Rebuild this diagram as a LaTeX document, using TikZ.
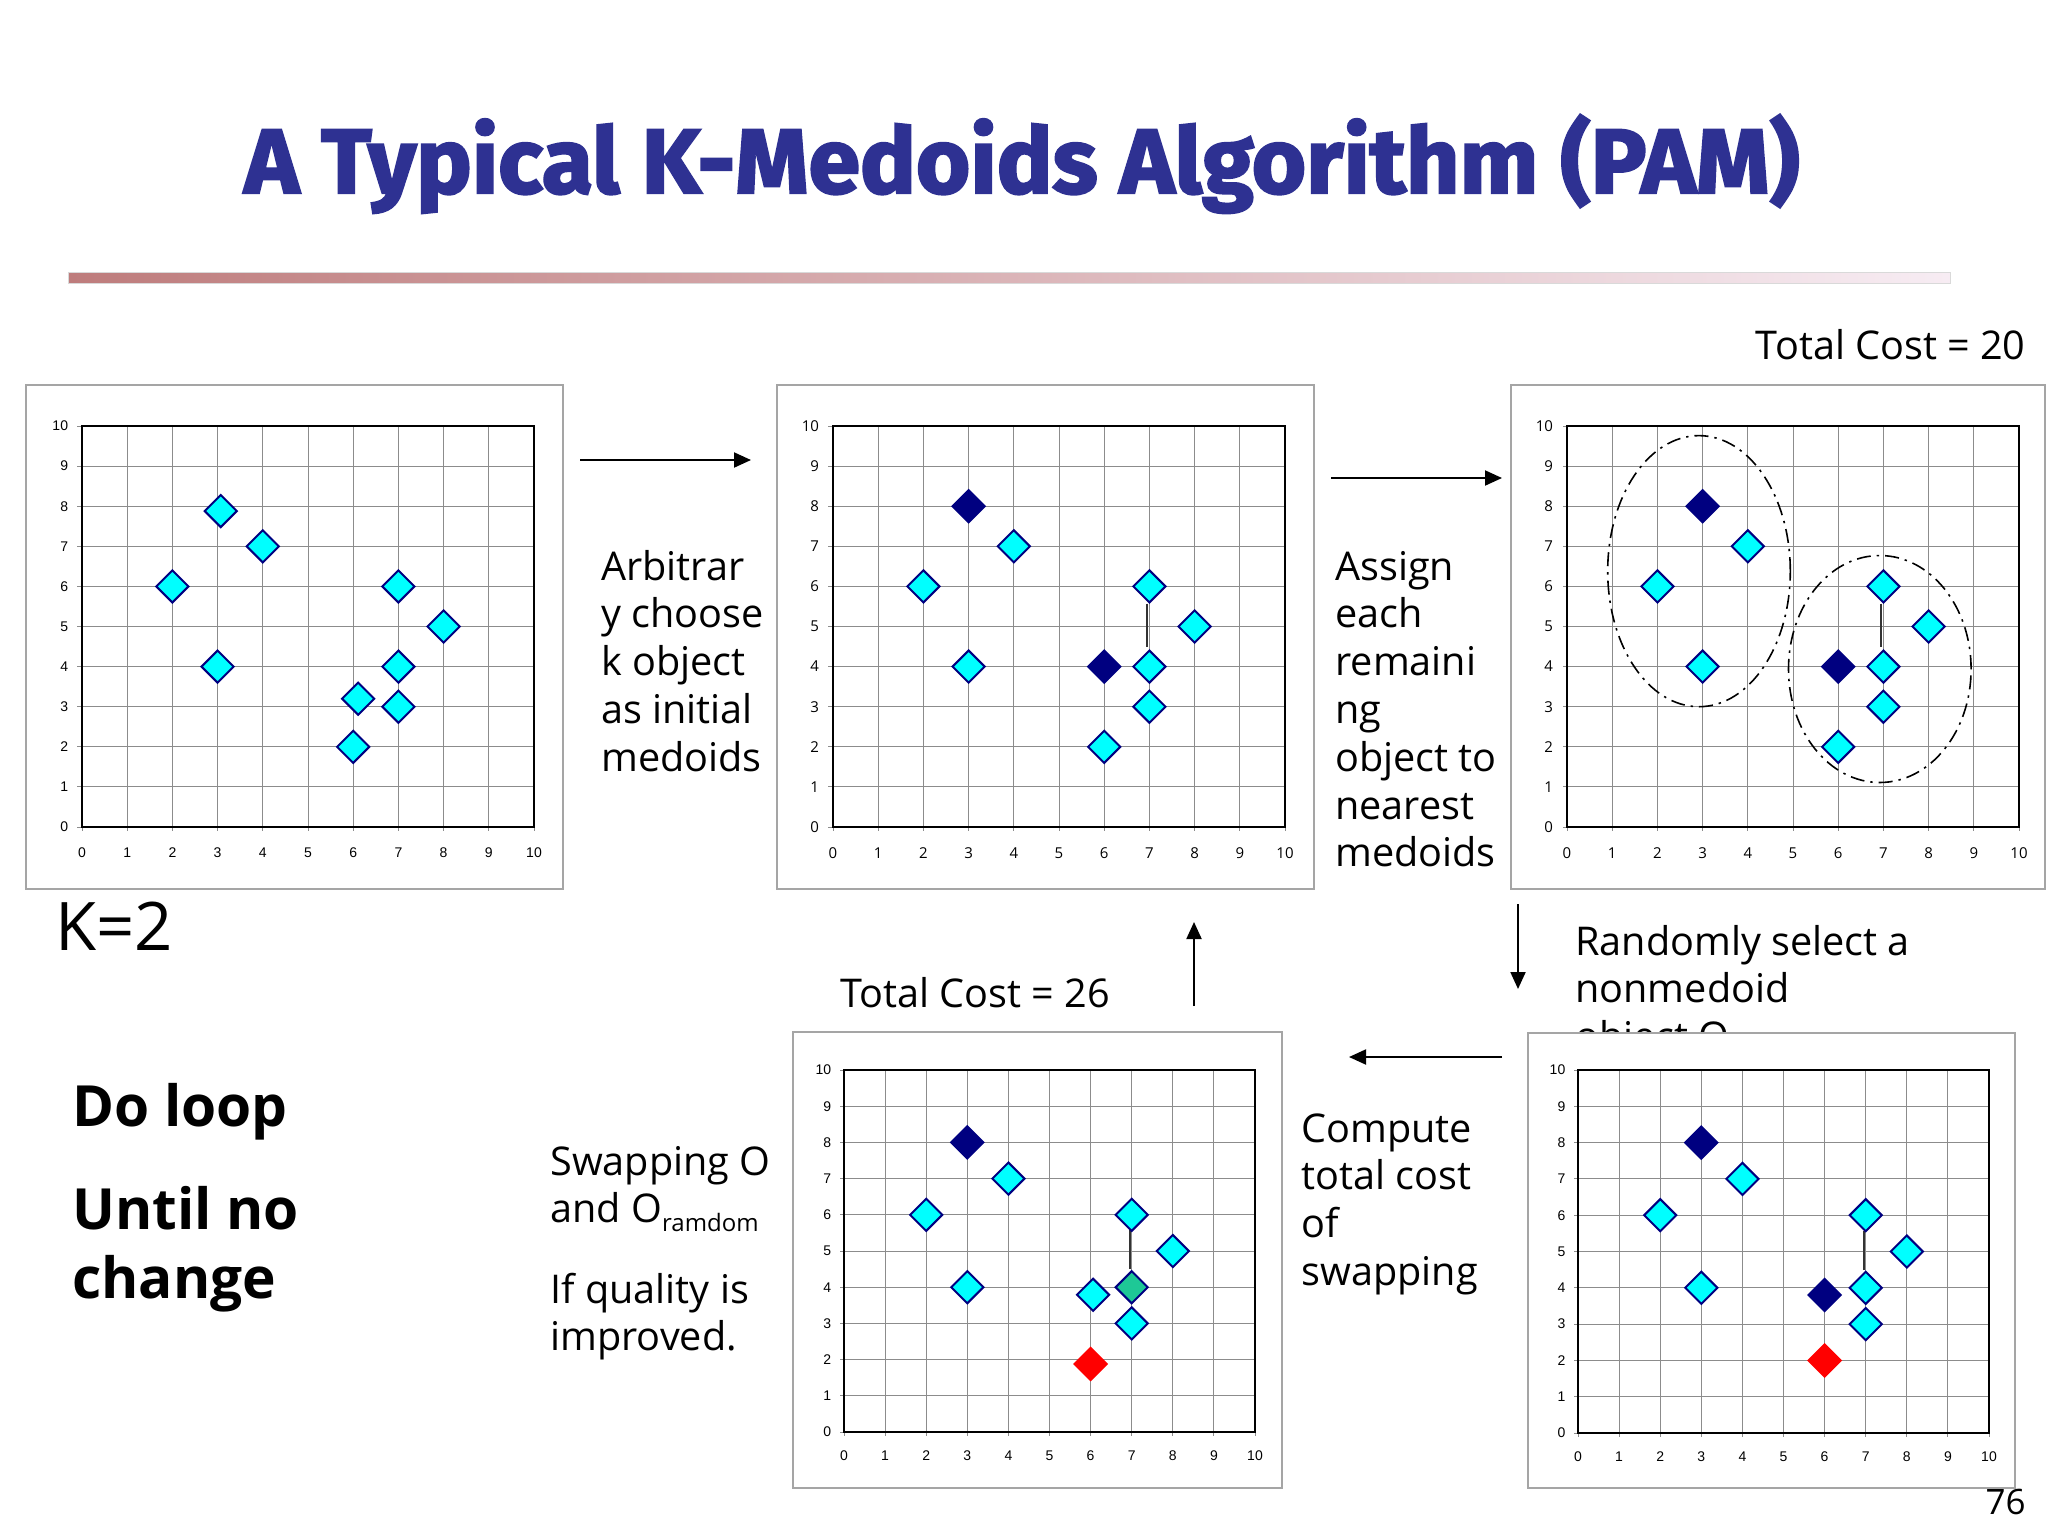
\documentclass[tikz,border=0pt]{standalone}
\usepackage{fontspec}
\setmainfont{Open Sans}
\newfontfamily\tickfontA{Liberation Sans}
\newfontfamily\tickfontB{Open Sans}
\newfontfamily\titlefont{Fira Sans}[FakeStretch=1.02,FakeBold=2.4]
\usetikzlibrary{shapes.geometric,arrows.meta}
\definecolor{titleblue}{RGB}{46,49,146}
\definecolor{ptcyan}{RGB}{0,255,255}
\definecolor{ptnavy}{RGB}{0,0,128}
\definecolor{ptgreen}{RGB}{30,200,150}
\definecolor{ptred}{RGB}{255,0,0}
\definecolor{gridgray}{RGB}{140,140,140}
\definecolor{framegray}{RGB}{165,165,165}
\definecolor{barL}{RGB}{190,124,124}
\definecolor{barR}{RGB}{247,236,243}
\newcommand\mlines[1]{\vtop{\let\\\cr\halign{##\hfil\cr#1\crcr}}}
\newcommand\lowsub[1]{\lower4.5pt\hbox{\fontsize{12}{12}\selectfont #1}}
\tikzset{
  plotat/.style n args={4}{shift={(#1,#4)}, xscale={(#2-#1)/10}, yscale={-(#4-#3)/10}},
  gridline/.style={draw=gridgray, line width=0.5pt},
  axisbox/.style={draw=black, line width=1.3pt},
  plotframe/.style={draw=framegray, line width=0.8pt, fill=white},
  ptbase/.style={diamond, inner sep=0pt, minimum width=16.5pt, minimum height=16.5pt, line width=1pt},
  cyanpt/.style={ptbase, fill=ptcyan, draw=ptnavy},
  navypt/.style={ptbase, fill=ptnavy, draw=ptnavy},
  redpt/.style={ptbase, fill=ptred, draw=ptred},
  greenpt/.style={ptbase, fill=ptgreen, draw=ptnavy},
  ticklbl/.style={inner sep=0pt},
  linkline/.style={draw=black!80, line width=1.1pt},
  flowarrow/.style={-{Triangle[length=8.5pt,width=7.5pt]}, line width=1pt},
  body/.style={font=\fontsize{19.8}{23.9}\selectfont, inner sep=0pt},
  clusterring/.style={draw=black, line width=0.8pt, dash pattern=on 7pt off 3pt on 1.2pt off 3pt},
}
\newcommand\plotbox[6]{%
  \begin{scope}[plotat={#2}{#3}{#4}{#5}]
    \foreach \i in {1,...,9} {
      \draw[gridline] (\i,0) -- (\i,10);
      \draw[gridline] (0,\i) -- (10,\i);
    }
    \foreach \i in {0,...,10} {
      \draw[gridline] (\i,0) -- (\i,-0.1);
      \draw[gridline] (0,\i) -- (-0.1,\i);
      \node[ticklbl, font=#6, anchor=east] (#1y\i) at (-0.3,\i) {\i};
      \node[ticklbl, font=#6] (#1x\i) at (\i,-0.65) {\i};
    }
    \draw[axisbox] (0,0) rectangle (10,10);
  \end{scope}}
\begin{document}
\begin{tikzpicture}[x=0.5pt,y=-0.5pt]
\useasboundingbox[fill=white] (0,0) rectangle (2048,1536);

% title and bar
\node[anchor=base, text=titleblue, font=\titlefont\bfseries\fontsize{45.7}{50}\selectfont, inner sep=0pt] (title) at (1022,193) {A Typical K-Medoids Algorithm (PAM)};
\shade[left color=barL, right color=barR] (68,272) rectangle (1950,283);
\draw[black!15, line width=0.5pt] (68,272) rectangle (1950,283);

% ---------- plot 1 ----------
\draw[plotframe] (26,385) rectangle (563,889);
\plotbox{pa}{82}{534}{426}{827}{\tickfontA\fontsize{7}{8}\selectfont}
\begin{scope}[plotat={82}{534}{426}{827}]
  \node[cyanpt] (pa1) at (3.07,7.88) {};
  \node[cyanpt] (pa2) at (4,7) {};
  \node[cyanpt] (pa3) at (2,6) {};
  \node[cyanpt] (pa4) at (3,4) {};
  \node[cyanpt] (pa5) at (7,6) {};
  \node[cyanpt] (pa6) at (8,5) {};
  \node[cyanpt] (pa7) at (7,4) {};
  \node[cyanpt] (pa8) at (6.11,3.2) {};
  \node[cyanpt] (pa9) at (7,3) {};
  \node[cyanpt] (pa10) at (6,2) {};
\end{scope}

% ---------- plot 2 ----------
\draw[plotframe] (777,385) rectangle (1314,889);
\plotbox{pb}{833}{1285}{426}{827}{\tickfontB\fontsize{7.5}{8}\selectfont}
\begin{scope}[plotat={833}{1285}{426}{827}]
  \coordinate (pbl1) at (6.96,5.58);
  \coordinate (pbl2) at (6.96,4.5);
  \draw[linkline] (pbl1) -- (pbl2);
  \node[navypt] (pb1) at (3,8) {};
  \node[cyanpt] (pb2) at (4,7) {};
  \node[cyanpt] (pb3) at (2,6) {};
  \node[cyanpt] (pb4) at (3,4) {};
  \node[cyanpt] (pb5) at (7,6) {};
  \node[cyanpt] (pb6) at (8,5) {};
  \node[navypt] (pb7) at (6,4) {};
  \node[cyanpt] (pb8) at (7,4) {};
  \node[cyanpt] (pb9) at (7,3) {};
  \node[cyanpt] (pb10) at (6,2) {};
\end{scope}

% ---------- plot 3 ----------
\draw[plotframe] (1511,385) rectangle (2045,889);
\plotbox{pc}{1567}{2019}{426}{827}{\tickfontB\fontsize{7.5}{8}\selectfont}
\begin{scope}[plotat={1567}{2019}{426}{827}]
  \coordinate (pcl1) at (6.96,5.58);
  \coordinate (pcl2) at (6.96,4.5);
  \draw[linkline] (pcl1) -- (pcl2);
  \draw[clusterring] (2.92,6.38) ellipse [x radius=2.02, y radius=3.38];
  \draw[clusterring] (6.92,3.94) ellipse [x radius=2.02, y radius=2.83];
  \node[navypt] (pc1) at (3,8) {};
  \node[cyanpt] (pc2) at (4,7) {};
  \node[cyanpt] (pc3) at (2,6) {};
  \node[cyanpt] (pc4) at (3,4) {};
  \node[cyanpt] (pc5) at (7,6) {};
  \node[cyanpt] (pc6) at (8,5) {};
  \node[navypt] (pc7) at (6,4) {};
  \node[cyanpt] (pc8) at (7,4) {};
  \node[cyanpt] (pc9) at (7,3) {};
  \node[cyanpt] (pc10) at (6,2) {};
\end{scope}

% ---------- texts ----------
\node[body, anchor=base east] (cost20) at (2026,359) {Total Cost = 20};
\node[body, anchor=base west] (step1) at (601,580) {\mlines{Arbitrar\\y choose\\k object\\as initial\\medoids}};
\node[body, anchor=base west] (step2) at (1335,580) {\mlines{Assign\\each\\remaini\\ng\\object to\\nearest\\medoids}};
\node[body, anchor=base west] (step3) at (1575,955) {\mlines{Randomly select a\\nonmedoid\\object O}};
\node[body, anchor=base west] (step4) at (1301,1142) {\mlines{Compute\\total cost\\of\\swapping}};
\node[body, anchor=base west] (step5) at (550,1175) {\mlines{Swapping O\\and O\lowsub{ramdom}}};
\node[body, anchor=base west] (step6) at (550,1303) {\mlines{If quality is\\improved.}};
\node[body, anchor=base west] (cost26) at (840,1007) {Total Cost = 26};
\node[inner sep=0pt, anchor=base west, font=\fontsize{33.5}{36}\selectfont] (kval) at (55,950) {K=2};
\node[inner sep=0pt, anchor=base west, font=\bfseries\fontsize{28.4}{34.5}\selectfont] (doloop) at (72,1126) {Do loop};
\node[inner sep=0pt, anchor=base west, font=\bfseries\fontsize{28.4}{34.5}\selectfont] (until) at (72,1229) {\mlines{Until no\\change}};
\node[inner sep=0pt, anchor=base east, font=\fontsize{17.5}{20}\selectfont] (pagenum) at (2026,1514) {76};

% ---------- plot 4 ----------
\draw[plotframe] (793,1032) rectangle (1282,1488);
\plotbox{pd}{844}{1255}{1070}{1432}{\tickfontA\fontsize{7}{8}\selectfont}
\begin{scope}[plotat={844}{1255}{1070}{1432}]
  \coordinate (pdl1) at (6.96,5.58);
  \coordinate (pdl2) at (6.96,4.5);
  \draw[linkline] (pdl1) -- (pdl2);
  \node[navypt] (pd1) at (3,8) {};
  \node[cyanpt] (pd2) at (4,7) {};
  \node[cyanpt] (pd3) at (2,6) {};
  \node[cyanpt] (pd4) at (3,4) {};
  \node[cyanpt] (pd5) at (7,6) {};
  \node[cyanpt] (pd6) at (8,5) {};
  \node[cyanpt] (pd7) at (6.06,3.79) {};
  \node[greenpt] (pd8) at (7,4) {};
  \node[cyanpt] (pd9) at (7,3) {};
  \node[redpt] (pd10) at (6,1.88) {};
\end{scope}

% ---------- plot 5 ----------
\draw[plotframe] (1528,1033) rectangle (2015,1488);
\plotbox{pe}{1578}{1989}{1070}{1433}{\tickfontA\fontsize{7}{8}\selectfont}
\begin{scope}[plotat={1578}{1989}{1070}{1433}]
  \coordinate (pel1) at (6.96,5.58);
  \coordinate (pel2) at (6.96,4.5);
  \draw[linkline] (pel1) -- (pel2);
  \node[navypt] (pe1) at (3,8) {};
  \node[cyanpt] (pe2) at (4,7) {};
  \node[cyanpt] (pe3) at (2,6) {};
  \node[cyanpt] (pe4) at (3,4) {};
  \node[cyanpt] (pe5) at (7,6) {};
  \node[cyanpt] (pe6) at (8,5) {};
  \node[navypt] (pe7) at (6,3.8) {};
  \node[cyanpt] (pe8) at (7,4) {};
  \node[cyanpt] (pe9) at (7,3) {};
  \node[redpt] (pe10) at (6,2) {};
\end{scope}

% ---------- flow arrows ----------
\coordinate (a1s) at (580,460);  \coordinate (a1e) at (751,460);
\coordinate (a2s) at (1331,478); \coordinate (a2e) at (1502,478);
\coordinate (a3s) at (1518,904); \coordinate (a3e) at (1518,989);
\coordinate (a4s) at (1502,1057);\coordinate (a4e) at (1349,1057);
\coordinate (a5s) at (1194,1006);\coordinate (a5e) at (1194,922);
\draw[flowarrow] (a1s) -- (a1e);
\draw[flowarrow] (a2s) -- (a2e);
\draw[flowarrow] (a3s) -- (a3e);
\draw[flowarrow] (a4s) -- (a4e);
\draw[flowarrow] (a5s) -- (a5e);
\end{tikzpicture}
\end{document}
